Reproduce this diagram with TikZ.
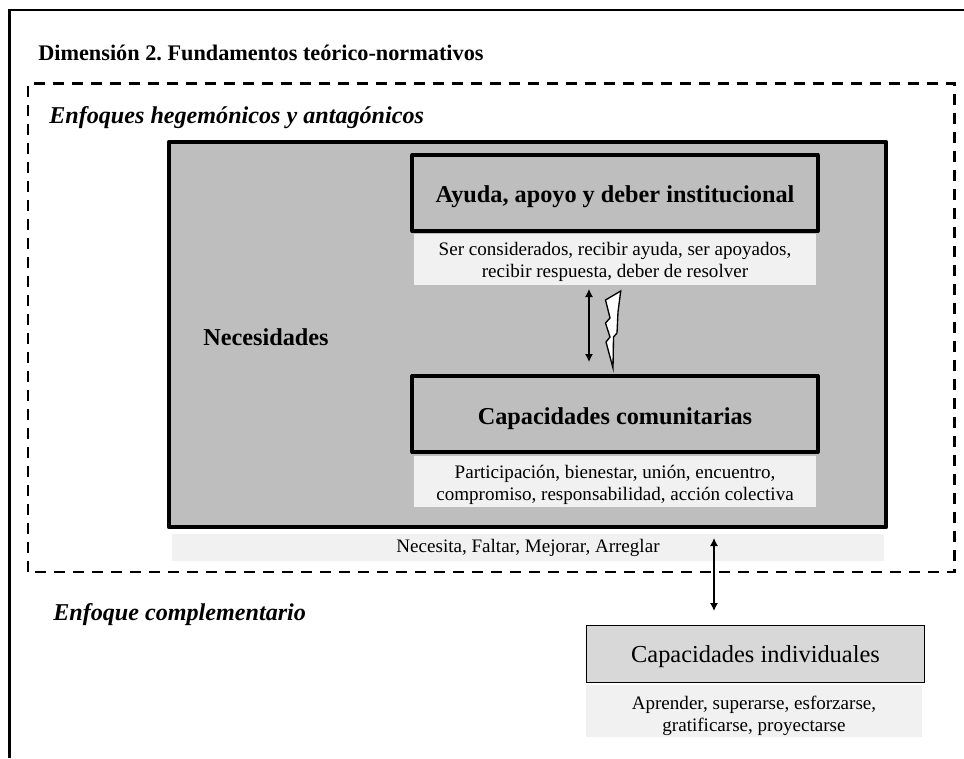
\documentclass[tikz,border=0pt]{standalone}
\usepackage{fontspec}
\setmainfont{Liberation Serif}
\usetikzlibrary{arrows.meta}
\definecolor{boxgray}{RGB}{190,190,190}
\definecolor{captgray}{RGB}{241,241,241}
\definecolor{indgray}{RGB}{216,216,216}
\newcommand\dropped[2]{\raisebox{-#1}[\height][\depth]{\begin{tabular}{@{}c@{}}#2\end{tabular}}}
\tikzset{
 x=0.75pt,y=-0.75pt,
 frame/.style={draw=black,line width=2.2pt},
 dashframe/.style={draw=black,line width=2.2pt,dash pattern=on 8.25pt off 6pt},
 mainbox/.style={draw=black,line width=3pt,fill=boxgray,line join=round,inner sep=0pt},
 innerbox/.style={draw=black,line width=3pt,fill=boxgray,line join=round,inner sep=0pt,font=\bfseries\fontsize{18.2}{21}\selectfont},
 capt/.style={fill=captgray,inner sep=0pt,align=center,font=\fontsize{14.3}{16.5}\selectfont},
 lab/.style={inner sep=0pt,anchor=west},
 dbl/.style={draw=black,line width=0.9pt,{Latex[length=6pt,width=6pt]}-{Latex[length=6pt,width=6pt]}},
}
\begin{document}
\frenchspacing
\begin{tikzpicture}
\useasboundingbox (0,0) rectangle (964,758);
\fill[white] (0,0) rectangle (964,758);
\draw[frame] (9.5,758) -- (9.5,10) -- (964,10);
\draw[dashframe] (28,572) -- (28,83.5) -- (954.5,83.5) -- (954.5,572) -- cycle;
\node[lab,font=\bfseries\fontsize{16.7}{19}\selectfont] (title) at (38,53) {Dimensión 2. Fundamentos teórico-normativos};
\node[lab,font=\bfseries\itshape\fontsize{18.1}{21}\selectfont] (heg) at (49,118) {Enfoques hegemónicos y antagónicos};
\node[mainbox,minimum width=538pt,minimum height=289pt] (main) at (527.5,334.5) {};
\node[lab,font=\bfseries\fontsize{18.2}{21}\selectfont] (nec) at (203,337) {Necesidades};
\node[innerbox,minimum width=304pt,minimum height=57pt] (ayuda) at (615,193) {\dropped{3.2pt}{Ayuda, apoyo y deber institucional}};
\node[capt,minimum width=302pt,minimum height=38pt] (ayudat) at (615,259.5) {\dropped{2.2pt}{Ser considerados, recibir ayuda, ser apoyados,\\recibir respuesta, deber de resolver}};
\node[innerbox,minimum width=304pt,minimum height=57pt] (cap) at (615,414) {\dropped{3.5pt}{Capacidades comunitarias}};
\node[capt,minimum width=302pt,minimum height=38pt] (capt1) at (615,481.5) {\dropped{3pt}{Participación, bienestar, unión, encuentro,\\compromiso, responsabilidad, acción colectiva}};
\node[capt,minimum width=534pt,minimum height=20pt] (nect) at (528,547.5) {\dropped{0.75pt}{Necesita, Faltar, Mejorar, Arreglar}};
\node[draw=black,line width=0.9pt,fill=indgray,inner sep=0pt,minimum width=254pt,minimum height=43pt,font=\fontsize{18.3}{21}\selectfont] (ind) at (755.5,654) {\dropped{2.25pt}{Capacidades individuales}};
\node[capt,minimum width=252pt,minimum height=39pt] (indt) at (754,711) {\dropped{3.6pt}{Aprender, superarse, esforzarse,\\gratificarse, proyectarse}};
\node[lab,font=\bfseries\itshape\fontsize{18.1}{21}\selectfont] (comp) at (53,615) {Enfoque complementario};
\coordinate (a1) at (589,289);
\coordinate (a2) at (589,362);
\coordinate (b1) at (714,538);
\coordinate (b2) at (714,611);
\draw[dbl] (a1) -- (a2);
\draw[dbl] (b1) -- (b2);
\draw[draw=black,fill=white,line width=1pt,line join=miter]
 (620.7,291) -- (605.5,300) -- (610,318) -- (605.5,323) -- (610,337) -- (606,342) -- (613,368) -- (613.5,337) -- (617,333) -- (618,312) -- cycle;
\end{tikzpicture}
\end{document}
